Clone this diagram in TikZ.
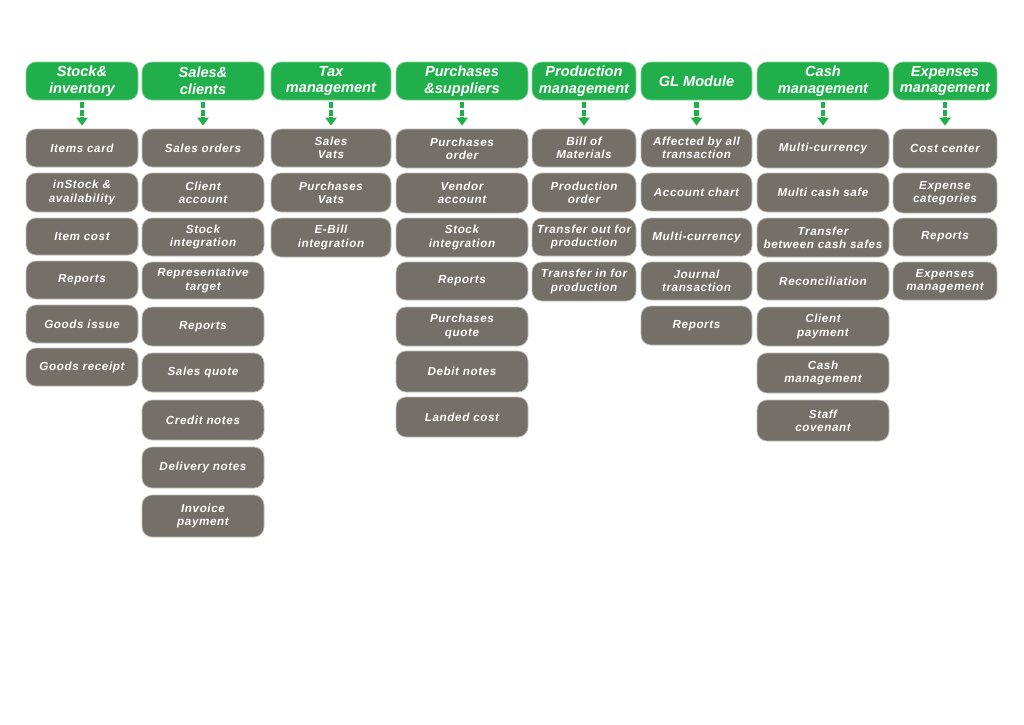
\documentclass[tikz,border=0pt]{standalone}
\usepackage{fontspec}
\setmainfont{Liberation Sans}
\newfontfamily\gfont[LetterSpace=5]{Liberation Sans}
\usetikzlibrary{arrows.meta}
\definecolor{hgreen}{RGB}{33,175,75}
\definecolor{bgray}{RGB}{116,111,103}
\newcommand\mk[7]{\pgfmathsetmacro\mkw{#4-#3}\pgfmathsetmacro\mkh{#6-#5}%
  \node[#1,minimum width=\mkw pt,minimum height=\mkh pt] (#2) at ({(#3+#4)/2},{(#5+#6)/2}) {#7};}
\tikzset{
  hdr/.style={fill=hgreen, draw=hgreen!55!white, line width=0.6pt, rounded corners=10pt,
    text=white, font=\fontsize{14.6}{16.8}\selectfont\bfseries\itshape, align=center, inner sep=0pt},
  gbox/.style={fill=bgray, draw=bgray!45!white, line width=0.7pt, rounded corners=10pt,
    text=white, font=\gfont\fontsize{11.7}{13.2}\selectfont\bfseries\itshape, align=center, inner sep=0pt},
  garrow/.style={draw=hgreen, line width=4.5pt, shorten <=2pt, shorten >=3pt,
    dash pattern=on 6pt off 1.5pt, -{Triangle[width=11pt,length=8pt]}}
}
\begin{document}
\begin{tikzpicture}[x=1pt,y=-1pt]
\useasboundingbox[fill=white] (0,0) rectangle (1024,724);
% headers
\mk{hdr}{h1}{26}{138}{62}{100}{Stock\&\\inventory}
\mk{hdr}{h2}{142}{264}{62}{100}{Sales\&\\clients}
\mk{hdr}{h3}{271}{391}{62}{100}{Tax\\management}
\mk{hdr}{h4}{396}{528}{62}{100}{Purchases\\\&suppliers}
\mk{hdr}{h5}{532}{636}{62}{100}{Production\\management}
\mk{hdr}{h6}{641}{752}{62}{100}{GL Module}
\mk{hdr}{h7}{757}{889}{62}{100}{Cash\\management}
\mk{hdr}{h8}{893}{997}{62}{100}{Expenses\\management}
% column 1
\mk{gbox}{a1}{26}{138}{129}{167}{Items card}
\mk{gbox}{a2}{26}{138}{173}{212}{inStock \&\\availability}
\mk{gbox}{a3}{26}{138}{218}{255}{Item cost}
\mk{gbox}{a4}{26}{138}{261}{299}{Reports}
\mk{gbox}{a5}{26}{138}{305}{343}{Goods issue}
\mk{gbox}{a6}{26}{138}{348}{386}{Goods receipt}
% column 2
\mk{gbox}{b1}{142}{264}{129}{167}{Sales orders}
\mk{gbox}{b2}{142}{264}{173}{212}{Client\\account}
\mk{gbox}{b3}{142}{264}{218}{256}{Stock\\integration}
\mk{gbox}{b4}{142}{264}{262}{299}{Representative\\target}
\mk{gbox}{b5}{142}{264}{307}{346}{Reports}
\mk{gbox}{b6}{142}{264}{353}{392}{Sales quote}
\mk{gbox}{b7}{142}{264}{400}{440}{Credit notes}
\mk{gbox}{b8}{142}{264}{447}{488}{Delivery notes}
\mk{gbox}{b9}{142}{264}{495}{537}{Invoice\\payment}
% column 3
\mk{gbox}{c1}{271}{391}{129}{167}{Sales\\Vats}
\mk{gbox}{c2}{271}{391}{173}{212}{Purchases\\Vats}
\mk{gbox}{c3}{271}{391}{218}{257}{E-Bill\\integration}
% column 4
\mk{gbox}{d1}{396}{528}{129}{168}{Purchases\\order}
\mk{gbox}{d2}{396}{528}{173}{213}{Vendor\\account}
\mk{gbox}{d3}{396}{528}{218}{257}{Stock\\integration}
\mk{gbox}{d4}{396}{528}{262}{300}{Reports}
\mk{gbox}{d5}{396}{528}{307}{346}{Purchases\\quote}
\mk{gbox}{d6}{396}{528}{351}{392}{Debit notes}
\mk{gbox}{d7}{396}{528}{397}{437}{Landed cost}
% column 5
\mk{gbox}{e1}{532}{636}{129}{167}{Bill of\\Materials}
\mk{gbox}{e2}{532}{636}{173}{212}{Production\\order}
\mk{gbox}{e3}{532}{636}{218}{256}{Transfer out for\\production}
\mk{gbox}{e4}{532}{636}{262}{301}{Transfer in for\\production}
% column 6
\mk{gbox}{f1}{641}{752}{129}{167}{Affected by all\\transaction}
\mk{gbox}{f2}{641}{752}{173}{211}{Account chart}
\mk{gbox}{f3}{641}{752}{218}{256}{Multi-currency}
\mk{gbox}{f4}{641}{752}{262}{300}{Journal\\transaction}
\mk{gbox}{f5}{641}{752}{306}{345}{Reports}
% column 7
\mk{gbox}{g1}{757}{889}{129}{168}{Multi-currency}
\mk{gbox}{g2}{757}{889}{173}{212}{Multi cash safe}
\mk{gbox}{g3}{757}{889}{218}{257}{Transfer\\between cash safes}
\mk{gbox}{g4}{757}{889}{262}{300}{Reconciliation}
\mk{gbox}{g5}{757}{889}{307}{346}{Client\\payment}
\mk{gbox}{g6}{757}{889}{353}{393}{Cash\\management}
\mk{gbox}{g7}{757}{889}{400}{441}{Staff\\covenant}
% column 8
\mk{gbox}{k1}{893}{997}{129}{168}{Cost center}
\mk{gbox}{k2}{893}{997}{173}{213}{Expense\\categories}
\mk{gbox}{k3}{893}{997}{218}{256}{Reports}
\mk{gbox}{k4}{893}{997}{262}{300}{Expenses\\management}
% arrows
\draw[garrow] (h1.south) -- (a1.north);
\draw[garrow] (h2.south) -- (b1.north);
\draw[garrow] (h3.south) -- (c1.north);
\draw[garrow] (h4.south) -- (d1.north);
\draw[garrow] (h5.south) -- (e1.north);
\draw[garrow] (h6.south) -- (f1.north);
\draw[garrow] (h7.south) -- (g1.north);
\draw[garrow] (h8.south) -- (k1.north);
\end{tikzpicture}
\end{document}
